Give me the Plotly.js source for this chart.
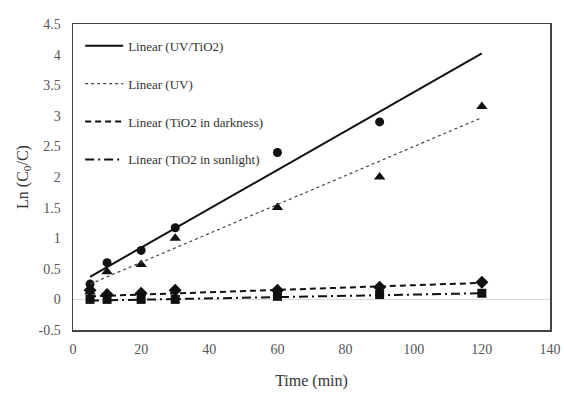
<!DOCTYPE html>
<html><head><meta charset="utf-8">
<script src="https://cdn.plot.ly/plotly-3.0.1.min.js"></script>
<style>html,body{margin:0;padding:0;background:#fff}</style>
</head><body><div id="chart" style="width:564px;height:394px"></div>
<script>
const time = [5, 10, 20, 30, 60, 90];
const timeAll = [5, 10, 20, 30, 60, 90, 120];
const uvTiO2 = [0.25, 0.6, 0.8, 1.17, 2.4, 2.9];
const uv = [0.12, 0.45, 0.57, 1.0, 1.5, 2.0, 3.15];
const tio2Dark = [0.15, 0.08, 0.1, 0.15, 0.15, 0.2, 0.28];
const tio2Sun = [0.0, 0.0, 0.0, 0.0, 0.05, 0.08, 0.1];
const trendX = [5, 120];
const trendUVTiO2 = [0.37, 4.02];
const trendUV = [0.25, 2.97];
const trendDark = [0.05, 0.27];
const trendSun = [-0.02, 0.1];
const legendNames = ['Linear (UV/TiO2)', 'Linear (UV)', 'Linear (TiO2 in darkness)', 'Linear (TiO2 in sunlight)'];
const xTicks = [0, 20, 40, 60, 80, 100, 120, 140];
const yTicks = [-0.5, 0, 0.5, 1, 1.5, 2, 2.5, 3, 3.5, 4, 4.5];

const col = '#111';
const ff = '"Liberation Serif", "Times New Roman", serif';
const traces = [
  {x: time, y: uvTiO2, mode: 'markers', marker: {symbol: 'circle', size: 9, color: col}, showlegend: false},
  {x: timeAll, y: uv, mode: 'markers', marker: {symbol: 'triangle-up', size: 10, color: col}, showlegend: false},
  {x: timeAll, y: tio2Dark, mode: 'markers', marker: {symbol: 'diamond', size: 10, color: col}, showlegend: false},
  {x: timeAll, y: tio2Sun, mode: 'markers', marker: {symbol: 'square', size: 9, color: col}, showlegend: false},
  {x: trendX, y: trendUVTiO2, mode: 'lines', name: legendNames[0], legendgroup: 'a', line: {color: col, width: 2, dash: 'solid'}},
  {x: trendX, y: trendUV, mode: 'lines', name: legendNames[1], legendgroup: 'b', line: {color: '#444', width: 1.2, dash: 'dot'}},
  {x: trendX, y: trendDark, mode: 'lines', name: legendNames[2], legendgroup: 'c', line: {color: col, width: 2, dash: '6px,4px'}},
  {x: trendX, y: trendSun, mode: 'lines', name: legendNames[3], legendgroup: 'd', line: {color: col, width: 2, dash: '9px,4px,2px,4px'}}
];
const tickFont = {family: ff, size: 14, color: '#555'};
const layout = {
  width: 564, height: 394,
  margin: {l: 73, r: 14, t: 24, b: 64},
  paper_bgcolor: '#fff', plot_bgcolor: '#fff',
  font: {family: ff, color: '#222'},
  xaxis: {range: [0, 140], tickvals: xTicks, ticktext: xTicks.map(String), showgrid: false, zeroline: false,
    showline: true, mirror: true, linecolor: '#444', linewidth: 1.5, ticks: '', tickfont: tickFont,
    ticklabelstandoff: 6,
    title: {text: 'Time (min)', font: {family: ff, size: 16, color: '#333'}, standoff: 18}},
  yaxis: {range: [-0.5, 4.5], tickvals: yTicks, ticktext: yTicks.map(String), showgrid: false,
    zeroline: true, zerolinecolor: '#d9d9d9', zerolinewidth: 1,
    showline: true, mirror: true, linecolor: '#444', linewidth: 1.5, ticks: '', tickfont: tickFont,
    ticklabelstandoff: 8,
    title: {text: 'Ln (C<sub>0</sub>/C)', font: {family: ff, size: 16, color: '#333'}, standoff: 6}},
  legend: {x: 0.015, y: 0.978, xanchor: 'left', yanchor: 'top', bgcolor: 'rgba(255,255,255,0)',
    font: {family: ff, size: 13, color: '#333'}, tracegroupgap: 18, itemwidth: 38},
  showlegend: true
};
Plotly.newPlot('chart', traces, layout, {displayModeBar: false, staticPlot: true});
</script></body></html>
